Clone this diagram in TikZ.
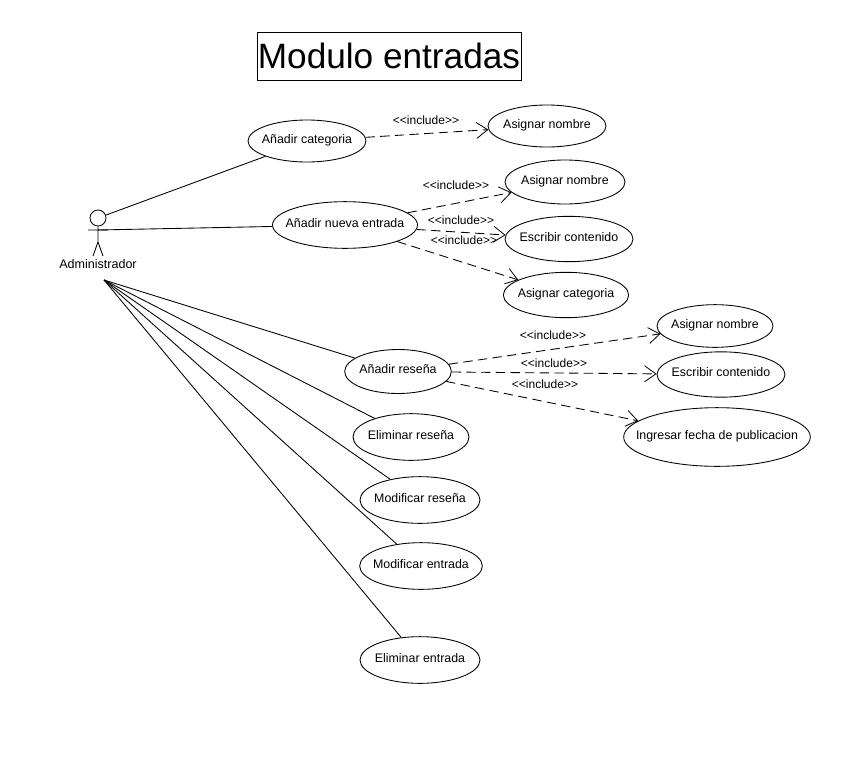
\documentclass[tikz,border=0pt]{standalone}
\usepackage{fontspec}
\setmainfont{Liberation Sans}
\usetikzlibrary{arrows.meta,shapes.geometric}
\tikzset{
	usecase/.style={draw,ellipse,inner ysep=0pt,inner xsep=-30pt,font=\fontsize{9.3pt}{10pt}\selectfont,text height=6.5pt,text depth=3pt},
	incl/.style={dash pattern=on 7pt off 4pt,->},
	tag/.style={inner sep=0pt,font=\fontsize{9pt}{10pt}\selectfont}
}
\begin{document}
\begin{tikzpicture}[x=.75pt,y=-.75pt,line width=.65pt,>={Straight Barb[length=8.5pt,width=12pt,line width=.6pt]}]
	\useasboundingbox (0,0) rectangle (868,764);
	\node[draw,inner sep=0pt,minimum width=198pt,minimum height=36pt,font=\fontsize{26.4pt}{30pt}\selectfont] (title) at (389,56) {Modulo entradas};
	% actor
	\node[draw,circle,inner sep=0pt,minimum size=12pt] (head) at (98,218) {};
	\coordinate (neck) at (98,230);
	\coordinate (hip) at (98,242);
	\coordinate (handl) at (88,230);
	\coordinate (handr) at (108,230);
	\coordinate (footl) at (93,256);
	\coordinate (footr) at (103,256);
	\coordinate (fan) at (104,280);
	\draw (head)--(hip) (handl)--(handr) (footl)--(hip)--(footr);
	\node[tag,font=\fontsize{9.4pt}{10pt}\selectfont] (admin) at (98,264.5) {Administrador};
	% use cases
	\node[usecase,minimum width=88.5pt,minimum height=31.5pt] (addcat) at (307,141) {Añadir categoria};
	\node[usecase,minimum width=108.75pt,minimum height=35pt] (addnew) at (345,225) {Añadir nueva entrada};
	\node[usecase,minimum width=80pt,minimum height=33pt] (addres) at (398,371.5) {Añadir reseña};
	\node[usecase,minimum width=87pt,minimum height=35pt] (delres) at (411,437) {Eliminar reseña};
	\node[usecase,minimum width=90pt,minimum height=35pt] (modres) at (420,500) {Modificar reseña};
	\node[usecase,minimum width=92pt,minimum height=35pt] (modent) at (421,566) {Modificar entrada};
	\node[usecase,minimum width=90pt,minimum height=35pt] (delent) at (420,660) {Eliminar entrada};
	\node[usecase,minimum width=88.5pt,minimum height=31.5pt] (name1) at (547,126) {Asignar nombre};
	\node[usecase,minimum width=90pt,minimum height=33pt] (name2) at (565,182) {Asignar nombre};
	\node[usecase,minimum width=96pt,minimum height=34pt] (text2) at (569,239) {Escribir contenido};
	\node[usecase,minimum width=94pt,minimum height=34pt] (cat2) at (566,295) {Asignar categoria};
	\node[usecase,minimum width=87pt,minimum height=32pt] (name3) at (715,326) {Asignar nombre};
	\node[usecase,minimum width=96pt,minimum height=34pt] (text3) at (721,374.5) {Escribir contenido};
	\node[usecase,minimum width=140pt,minimum height=44pt] (date3) at (717,437) {Ingresar fecha de publicacion};
	% associations
	\draw (head)--(addcat);
	\draw (neck)--(addnew);
	\foreach \c in {addres,delres,modres,modent,delent}
	\draw (fan)--(\c);
	% includes
	\foreach \a/\b in {addcat/name1,addnew/name2,addnew/text2,addnew/cat2,addres/name3,addres/text3,addres/date3}
	\draw[incl] (\a)--(\b);
	\node[tag] (t1) at (426,120) {<{}<include>{}>};
	\node[tag] (t2) at (456,185) {<{}<include>{}>};
	\node[tag] (t3) at (461,220) {<{}<include>{}>};
	\node[tag] (t4) at (464,240) {<{}<include>{}>};
	\node[tag] (t5) at (553,335) {<{}<include>{}>};
	\node[tag] (t6) at (554,363) {<{}<include>{}>};
	\node[tag] (t7) at (545,384) {<{}<include>{}>};
\end{tikzpicture}
\end{document}
